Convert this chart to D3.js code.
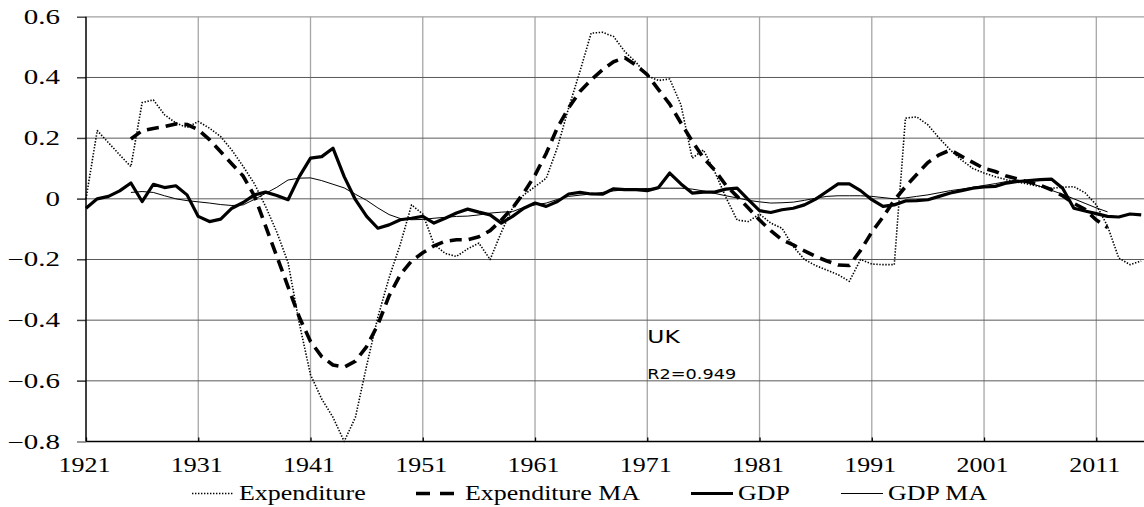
<!DOCTYPE html>
<html>
<head>
<meta charset="utf-8">
<script src="https://cdn.jsdelivr.net/npm/d3@7"></script>
<style>
  body { margin: 0; background: #fff; }
  svg { display: block; }
</style>
</head>
<body>
<div id="chart"></div>
<script>
// Years of the first value in each series (one value per year after that).
const expStart = 1921, expMAStart = 1925, gdpStart = 1921, gdpMAStart = 1925;

// Expenditure (dotted), 1921-2015
const expenditure = [
  0.00, 0.225, 0.185, 0.145, 0.106, 0.317, 0.326, 0.277, 0.25, 0.235,
  0.255, 0.233, 0.205, 0.16, 0.107, 0.05, -0.025, -0.11, -0.21, -0.41,
  -0.58, -0.66, -0.72, -0.80, -0.72, -0.55, -0.39, -0.26, -0.15, -0.02,
  -0.05, -0.15, -0.18, -0.19, -0.165, -0.146, -0.20, -0.11, -0.03, 0.013,
  0.04, 0.068, 0.17, 0.30, 0.42, 0.546, 0.549, 0.535, 0.485, 0.45,
  0.405, 0.39, 0.395, 0.31, 0.134, 0.161, 0.09, 0.005, -0.07, -0.075,
  -0.05, -0.08, -0.097, -0.157, -0.20, -0.22, -0.235, -0.25, -0.272, -0.20,
  -0.215, -0.217, -0.217, 0.266, 0.27, 0.244, 0.20, 0.161, 0.128, 0.10,
  0.085, 0.073, 0.063, 0.055, 0.048, 0.04, 0.035, 0.038, 0.04, 0.02,
  -0.02, -0.09, -0.195, -0.217, -0.205
];

// Expenditure MA (dashed), 1925-2012
const expenditureMA = [
  0.197, 0.225, 0.232, 0.238, 0.247, 0.245,
  0.228, 0.195, 0.155, 0.115, 0.075, 0.01, -0.09, -0.19, -0.29, -0.39,
  -0.47, -0.52, -0.548, -0.555, -0.535, -0.487, -0.415, -0.32, -0.25, -0.205,
  -0.178, -0.155, -0.14, -0.135, -0.135, -0.125, -0.105, -0.07, -0.03, 0.02,
  0.078, 0.15, 0.235, 0.30, 0.354, 0.392, 0.425, 0.452, 0.465, 0.44,
  0.409, 0.36, 0.312, 0.25, 0.19, 0.135, 0.095, 0.045, 0.008, -0.03,
  -0.07, -0.105, -0.135, -0.152, -0.172, -0.19, -0.205, -0.218, -0.22, -0.17,
  -0.11, -0.06, -0.005, 0.04, 0.08, 0.12, 0.145, 0.161, 0.14, 0.12,
  0.10, 0.09, 0.075, 0.065, 0.055, 0.045, 0.03, 0.01, -0.015, -0.035,
  -0.07, -0.095
];

// GDP (thick solid), 1921-2015
const gdp = [
  -0.031, 0.0, 0.008, 0.026, 0.052, -0.009, 0.048, 0.037, 0.043, 0.013,
  -0.058, -0.075, -0.067, -0.031, -0.012, 0.013, 0.022, 0.011, -0.003, 0.073,
  0.134, 0.139, 0.167, 0.073, -0.003, -0.058, -0.097, -0.086, -0.069, -0.064,
  -0.058, -0.08, -0.064, -0.047, -0.034, -0.044, -0.053, -0.08, -0.058, -0.031,
  -0.014, -0.025, -0.009, 0.016, 0.021, 0.016, 0.015, 0.033, 0.03, 0.03,
  0.027, 0.037, 0.085, 0.049, 0.019, 0.022, 0.022, 0.032, 0.035, -0.003,
  -0.039, -0.045, -0.036, -0.031, -0.02, -0.001, 0.024, 0.049, 0.049, 0.027,
  -0.003, -0.025, -0.02, -0.007, -0.006, -0.003, 0.008, 0.019, 0.027, 0.035,
  0.039, 0.041, 0.052, 0.057, 0.06, 0.063, 0.065, 0.035, -0.031, -0.04,
  -0.049, -0.058, -0.06, -0.05, -0.053
];

// GDP MA (thin solid), 1925-2012
const gdpMA = [
  0.021, 0.024, 0.021, 0.01, 0.0, -0.006,
  -0.01, -0.014, -0.019, -0.022, -0.02, -0.002, 0.018, 0.038, 0.062, 0.068,
  0.069, 0.06, 0.048, 0.036, 0.015, -0.005, -0.03, -0.052, -0.065, -0.069,
  -0.068, -0.064, -0.061, -0.058, -0.057, -0.053, -0.047, -0.044, -0.042, -0.028,
  -0.02, -0.014, -0.002, 0.008, 0.012, 0.016, 0.021, 0.026, 0.03, 0.033,
  0.034, 0.035, 0.035, 0.035, 0.032, 0.026, 0.018, 0.01, 0.003, -0.005,
  -0.01, -0.014, -0.013, -0.011, -0.005, 0.002, 0.008, 0.01, 0.01, 0.01,
  0.008, 0.004, 0.0, 0.003, 0.008, 0.013, 0.02, 0.027, 0.032, 0.038,
  0.044, 0.05, 0.057, 0.062, 0.053, 0.041, 0.028, 0.015, 0.0, -0.015,
  -0.03, -0.043
];

const xTicks = [1921, 1931, 1941, 1951, 1961, 1971, 1981, 1991, 2001, 2011];
const yTicks = [-0.8, -0.6, -0.4, -0.2, 0, 0.2, 0.4, 0.6];
const legendLabels = ["Expenditure", "Expenditure MA", "GDP", "GDP MA"];
const country = "UK", r2Label = "R2=0.949";

const serif = "Liberation Serif";
const sans = "DejaVu Sans";


// Dimensions
const W = 1144, H = 507;
const margin = { top: 16.8, left: 86, right: 1144, bottom: 441.5 };

let svg = d3.select("#chart").append("svg")
    .attr("width", W)
    .attr("height", H);

// Scales
let x = d3.scaleLinear().domain([1921, 2011]).range([margin.left, 1096.3]);
let y = d3.scaleLinear().domain([-0.8, 0.6]).range([margin.bottom, margin.top]);

// Text helper: a text inside a group placed at (px,py), stretched sideways
// (the source picture is wider than it is tall)
function addText(parent, px, py, str, fam, size, sx, anchor) {
	return parent.append("g")
		.attr("transform", "translate(" + px + "," + py + ") scale(" + sx + ",1)")
		.append("text")
		.style("font-family", "'" + fam + "'")
		.attr("font-size", size)
		.attr("fill", "#000")
		.attr("text-anchor", anchor || "start")
		.text(str);
}

// Grid
svg.append("g").selectAll("line")
	.data(xTicks.slice(1))
	.join("line")
	.attr("x1", d => x(d)).attr("x2", d => x(d))
	.attr("y1", margin.top).attr("y2", margin.bottom)
	.attr("stroke", "#a6a6a6").attr("stroke-width", 1.3);

svg.append("g").selectAll("line")
	.data(yTicks.filter(d => d > -0.8))
	.join("line")
	.attr("x1", margin.left - 9).attr("x2", margin.right)
	.attr("y1", d => y(d)).attr("y2", d => y(d))
	.attr("stroke", d => d == 0.6 ? "#a0a0a0" : "#5a5a5a").attr("stroke-width", d => d == 0.6 ? 1.3 : 1);

// y axis (ticks from d3, labels drawn below so they can be stretched)
let yAxis = d3.axisLeft(y)
	.tickValues(yTicks)
	.tickFormat("")
	.tickSize(9);
let yAxisEl = svg.append("g")
	.attr("transform", "translate(" + margin.left + ",0)")
	.call(yAxis);
yAxisEl.select(".domain").remove();
yAxisEl.selectAll(".tick line").attr("stroke", "#333");

const yFmt = d => d == 0 ? "0" : d3.format(".1f")(d);
let yLab = svg.append("g");
yTicks.forEach(d => addText(yLab, margin.left - 26, y(d) + 7, yFmt(d), serif, 20, 1.45, "end"));

// x axis
let xAxis = d3.axisBottom(x)
	.tickValues(xTicks)
	.tickFormat("")
	.tickSize(-4);
let xAxisEl = svg.append("g")
	.attr("transform", "translate(0," + margin.bottom + ")")
	.call(xAxis);
xAxisEl.select(".domain").remove();
xAxisEl.selectAll(".tick line").attr("stroke", "#000").attr("stroke-width", 1.3);

let xLab = svg.append("g");
xTicks.forEach(d => addText(xLab, x(d) - 1.5, 471.5, d3.format("d")(d), serif, 20, 1.3, "middle"));

// axis lines
svg.append("line").attr("x1", margin.left).attr("x2", margin.right)
	.attr("y1", margin.bottom).attr("y2", margin.bottom)
	.attr("stroke", "#000").attr("stroke-width", 1.5);
svg.append("line").attr("x1", margin.left).attr("x2", margin.left)
	.attr("y1", margin.top).attr("y2", margin.bottom)
	.attr("stroke", "#000").attr("stroke-width", 1.5);


// Series
const series = [
	{ name: legendLabels[0], start: expStart, values: expenditure, width: 1.6, dash: "1.4,1.6" },
	{ name: legendLabels[1], start: expMAStart, values: expenditureMA, width: 3.6, dash: "12,7" },
	{ name: legendLabels[2], start: gdpStart, values: gdp, width: 3.2, dash: null },
	{ name: legendLabels[3], start: gdpMAStart, values: gdpMA, width: 1, dash: null }
];

let line = d3.line()
	.x(d => d.x)
	.y(d => d.y);

// draw thin ones on top of the thick ones
[2, 1, 0, 3].forEach(k => {
	const s = series[k];
	const pts = s.values.map((v, i) => ({ x: x(s.start + i), y: y(v) }));
	svg.append("path")
		.datum(pts)
		.attr("fill", "none")
		.attr("stroke", "#000")
		.attr("stroke-width", s.width)
		.attr("stroke-linejoin", "round")
		.attr("stroke-dasharray", s.dash)
		.attr("d", line);
});


// Notes
addText(svg, x(1971), 342.5, country, sans, 18, 1.3);
addText(svg, x(1971), 379, r2Label, sans, 14.5, 1.22);


// Legend
const legX = [192, 416, 691, 841];
const legY = 493.5;
let legend = svg.append("g");
series.forEach((s, i) => {
	legend.append("line")
		.attr("x1", legX[i]).attr("x2", legX[i] + 42)
		.attr("y1", legY).attr("y2", legY)
		.attr("stroke", "#000")
		.attr("stroke-width", s.width)
		.attr("stroke-dasharray", i == 1 ? "14,10" : s.dash);
	addText(legend, legX[i] + (i == 1 ? 49 : 47), 499.5, s.name, serif, 21, 1.235);
});
</script>
</body>
</html>
